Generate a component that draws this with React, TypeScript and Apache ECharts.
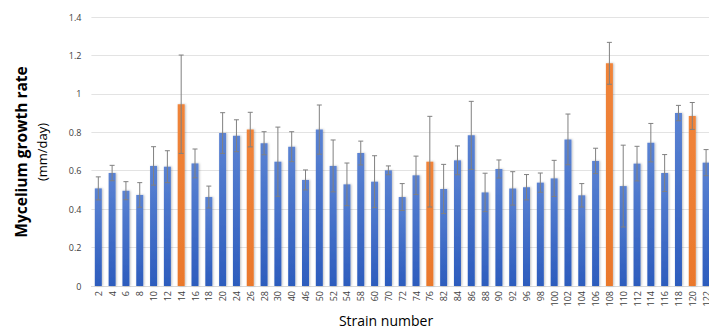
import React, { useEffect, useRef } from "react";
import * as echarts from "echarts";

const strains = ["2","4","6","8","10","12","14","16","18","20","24","26","28","30","40","46","50","52","54","58","60","70","72","74","76","82","84","86","88","90","92","96","98","100","102","104","106","108","110","112","114","116","118","120","122"];
const growthRate = [0.508,0.588,0.496,0.474,0.625,0.621,0.946,0.638,0.463,0.796,0.782,0.814,0.743,0.647,0.725,0.552,0.814,0.625,0.529,0.692,0.543,0.602,0.463,0.576,0.647,0.505,0.654,0.784,0.487,0.609,0.508,0.514,0.538,0.56,0.763,0.472,0.651,1.159,0.52,0.637,0.746,0.588,0.9,0.885,0.642];
const errorSize = [0.06,0.04,0.047,0.064,0.1,0.083,0.256,0.075,0.057,0.106,0.083,0.09,0.06,0.18,0.078,0.052,0.128,0.135,0.111,0.062,0.135,0.023,0.07,0.1,0.236,0.128,0.075,0.177,0.1,0.047,0.087,0.066,0.05,0.094,0.132,0.061,0.066,0.109,0.213,0.09,0.1,0.096,0.04,0.07,0.068];
const highlighted = ["14","26","76","108","120"];
const yTicks = [0, 0.2, 0.4, 0.6, 0.8, 1, 1.2, 1.4];

const blueGrad = () =>
  new echarts.graphic.LinearGradient(0, 0, 0, 1, [
    { offset: 0, color: "#5b83d3" },
    { offset: 1, color: "#2c5cbd" },
  ]);
const orangeGrad = () =>
  new echarts.graphic.LinearGradient(0, 0, 0, 1, [
    { offset: 0, color: "#f0843a" },
    { offset: 1, color: "#ea782c" },
  ]);

export default function App() {
  const ref = useRef<HTMLDivElement>(null);
  useEffect(() => {
    document.body.style.margin = "0";
    if (!ref.current) return;
    const chart = echarts.init(ref.current, null, { renderer: "svg" });
    const barData = growthRate.map((v, i) => ({
      value: v,
      itemStyle: { color: highlighted.includes(strains[i]) ? orangeGrad() : blueGrad() },
    }));
    const errData = growthRate.map((v, i) => [i, v - errorSize[i], v + errorSize[i]]);
    chart.setOption({
      animation: false,
      backgroundColor: "#ffffff",
      grid: { left: 91.4, right: 0, top: 17, bottom: 44, containLabel: false },
      xAxis: {
        type: "category",
        data: strains,
        axisLine: { show: true, lineStyle: { color: "#d9d9d9" } },
        axisTick: { show: false },
        axisLabel: {
          interval: 0,
          rotate: 90,
          fontSize: 9,
          color: "#404040",
          margin: 5,
          fontFamily: "Open Sans",
        },
      },
      yAxis: {
        type: "value",
        min: 0,
        max: 1.4,
        interval: 0.2,
        axisLine: { show: false },
        axisTick: { show: false },
        splitLine: { lineStyle: { color: "#e3e3e3", width: 1 } },
        axisLabel: {
          fontSize: 9,
          color: "#404040",
          margin: 10,
          fontFamily: "Open Sans",
          formatter: (v: number) => {
            const t = yTicks.find((x) => Math.abs(x - v) < 1e-6);
            return t === undefined ? "" : String(t);
          },
        },
      },
      series: [
        {
          type: "bar",
          data: barData,
          barWidth: 7,
          itemStyle: {
            shadowBlur: 2,
            shadowColor: "rgba(0,0,0,0.25)",
            shadowOffsetX: 1,
            shadowOffsetY: 0,
          },
          z: 2,
        },
        {
          type: "custom",
          data: errData,
          z: 5,
          renderItem: (params: any, api: any) => {
            const idx = api.value(0);
            const lo = api.coord([idx, api.value(1)]);
            const hi = api.coord([idx, api.value(2)]);
            const half = 2.5;
            const style = { stroke: "#808080", lineWidth: 1 };
            return {
              type: "group",
              children: [
                { type: "line", shape: { x1: hi[0], y1: hi[1], x2: lo[0], y2: lo[1] }, style },
                { type: "line", shape: { x1: hi[0] - half, y1: hi[1], x2: hi[0] + half, y2: hi[1] }, style },
                { type: "line", shape: { x1: lo[0] - half, y1: lo[1], x2: lo[0] + half, y2: lo[1] }, style },
              ],
            };
          },
        },
      ],
      graphic: [
        {
          type: "text",
          x: 21,
          y: 152,
          rotation: Math.PI / 2,
          style: {
            text: "Mycelium growth rate",
            font: "bold 15.5px 'Open Sans'",
            fill: "#000000",
            align: "center",
            verticalAlign: "middle",
          },
        },
        {
          type: "text",
          x: 42,
          y: 152,
          rotation: Math.PI / 2,
          style: {
            text: "(mm/day)",
            font: "13px 'Open Sans'",
            fill: "#000000",
            align: "center",
            verticalAlign: "middle",
          },
        },
        {
          type: "text",
          x: 386,
          y: 320,
          style: {
            text: "Strain number",
            font: "14px 'Open Sans'",
            fill: "#000000",
            align: "center",
            verticalAlign: "middle",
          },
        },
      ],
    });
    return () => chart.dispose();
  }, []);
  return (
    <div style={{ position: "absolute", left: 0, top: 0, width: 709, height: 330, overflow: "hidden" }}>
      <div ref={ref} style={{ width: 713, height: 330 }} />
    </div>
  );
}
